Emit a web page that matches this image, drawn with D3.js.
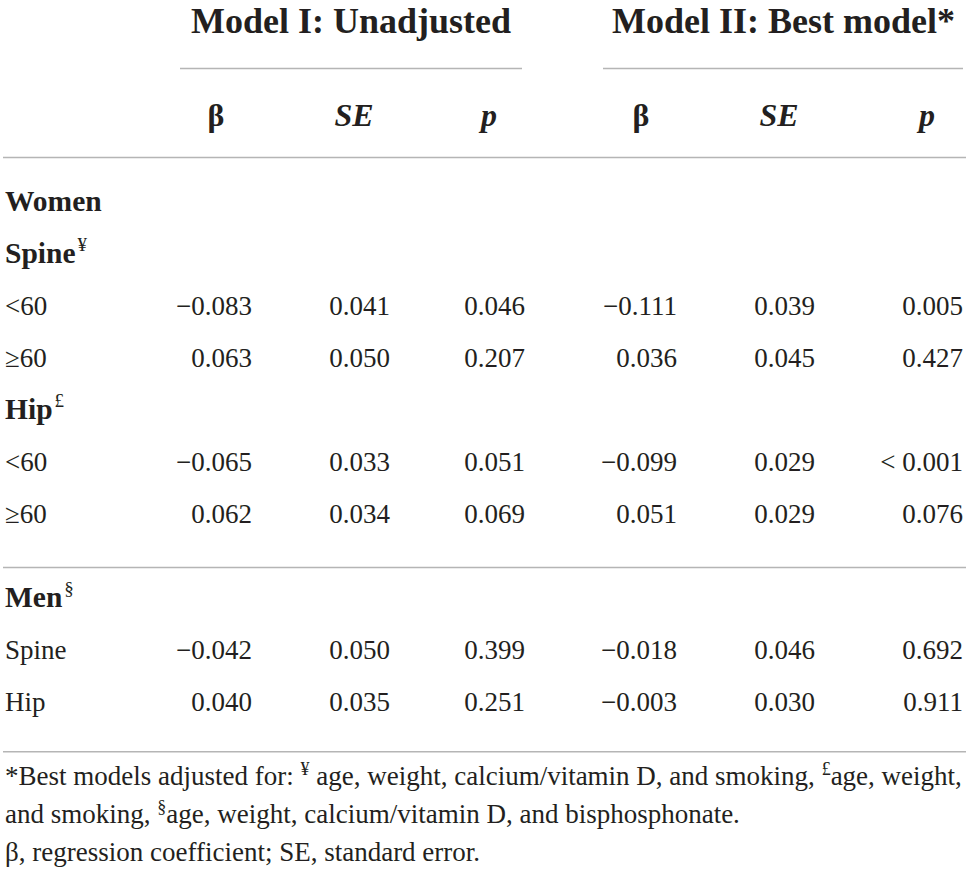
<!DOCTYPE html>
<html>
<head>
<meta charset="utf-8">
<script src="https://cdn.jsdelivr.net/npm/d3@7"></script>
<style>
  body { margin: 0; background: #fff; }
  text { font-family: "Liberation Serif", "Times New Roman", serif; fill: #231f20; }
</style>
</head>
<body>
<div id="table"></div>
<script>
// Table data
const modelTitles = ["Model I: Unadjusted", "Model II: Best model*"];
const colHeaders = ["β", "SE", "p", "β", "SE", "p"];
const colItalic = [false, true, true, false, true, true];

const rowLabels = ["Women", "Spine", "<60", "≥60", "Hip", "<60", "≥60", "Men", "Spine", "Hip"];
const rowSup    = ["", "¥", "", "", "£", "", "", "§", "", ""];
const rowBold   = [true, true, false, false, true, false, false, true, false, false];
const rowSlot   = [0, 1, 2, 3, 4, 5, 6, 7.62, 8.62, 9.62];

const beta1 = [null, null, -0.083, 0.063, null, -0.065, 0.062, null, -0.042, 0.040];
const se1   = [null, null, 0.041, 0.050, null, 0.033, 0.034, null, 0.050, 0.035];
const p1    = [null, null, 0.046, 0.207, null, 0.051, 0.069, null, 0.399, 0.251];
const beta2 = [null, null, -0.111, 0.036, null, -0.099, 0.051, null, -0.018, -0.003];
const se2   = [null, null, 0.039, 0.045, null, 0.029, 0.029, null, 0.046, 0.030];
const p2    = [null, null, 0.005, 0.427, null, "< 0.001", 0.076, null, 0.692, 0.911];

const footnotes = [
  [["*Best models adjusted for: ", false], ["¥", true], [" age, weight, calcium/vitamin D, and smoking, ", false], ["£", true], ["age, weight,", false]],
  [["and smoking, ", false], ["§", true], ["age, weight, calcium/vitamin D, and bisphosphonate.", false]],
  [["β, regression coefficient; SE, standard error.", false]]
];

const width = 969, height = 874;
const svg = d3.select("#table").append("svg").attr("width", width).attr("height", height);

const columns = [beta1, se1, p1, beta2, se2, p2];
// right edge of each numeric column
const colRight = [252, 390, 525, 677, 815, 963];
const y = d3.scaleLinear().domain([0, 1]).range([211, 263]);
const fmt = v => typeof v === "string" ? v : d3.format(".3f")(v).replace("-", "−");

const lineColor = "#b5b5b5";

// spanning model titles
const spans = [[180, 522], [603, 963]];
svg.selectAll(".model")
  .data(modelTitles)
  .enter()
  .append("text")
  .attr("x", (d, i) => i === 0 ? (spans[i][0] + spans[i][1]) / 2 : 955)
  .attr("y", 33)
  .attr("text-anchor", (d, i) => i === 0 ? "middle" : "end")
  .attr("font-weight", "bold")
  .attr("font-size", 36)
  .text(d => d);

svg.selectAll(".spanline")
  .data(spans)
  .enter()
  .append("line")
  .attr("x1", d => d[0]).attr("x2", d => d[1])
  .attr("y1", 68.5).attr("y2", 68.5)
  .attr("stroke", lineColor).attr("stroke-width", 1.5);

// column headers
svg.selectAll(".colhead")
  .data(colHeaders)
  .enter()
  .append("text")
  .attr("x", (d, i) => colRight[i] - 36)
  .attr("y", 126)
  .attr("text-anchor", "middle")
  .attr("font-weight", "bold")
  .attr("font-style", (d, i) => colItalic[i] ? "italic" : "normal")
  .attr("font-size", 32)
  .text(d => d);

// horizontal rules
const rules = [157.5, y(6.855), y(rowSlot[9] + 0.78)];
svg.selectAll(".rule")
  .data(rules)
  .enter()
  .append("line")
  .attr("x1", 3).attr("x2", 966)
  .attr("y1", d => d).attr("y2", d => d)
  .attr("stroke", lineColor).attr("stroke-width", 1.5);

// row labels
const labels = svg.selectAll(".rowlabel")
  .data(rowLabels)
  .enter()
  .append("text")
  .attr("x", 5)
  .attr("y", (d, i) => y(rowSlot[i]))
  .attr("font-size", (d, i) => rowBold[i] ? 29.5 : 27)
  .attr("font-weight", (d, i) => rowBold[i] ? "bold" : "normal");
labels.append("tspan").text(d => d);
labels.append("tspan")
  .attr("font-size", 19)
  .attr("font-weight", "normal")
  .attr("dx", 2)
  .attr("dy", -12)
  .text((d, i) => rowSup[i]);

// cells
const cells = [];
columns.forEach((col, c) => col.forEach((v, r) => { if (v !== null) cells.push({ c, r, v }); }));
svg.selectAll(".cell")
  .data(cells)
  .enter()
  .append("text")
  .attr("x", d => colRight[d.c])
  .attr("y", d => y(rowSlot[d.r]))
  .attr("text-anchor", "end")
  .attr("font-size", 27)
  .text(d => fmt(d.v));

// footnotes
svg.selectAll(".foot")
  .data(footnotes)
  .enter()
  .append("text")
  .attr("x", 5)
  .attr("y", (d, i) => 785 + i * 38)
  .attr("font-size", 27)
  .each(function(parts) {
    const t = d3.select(this);
    parts.forEach(([s, sup]) => {
      t.append("tspan")
        .attr("font-size", sup ? 18 : null)
        .attr("baseline-shift", sup ? "super" : null)
        .text(s);
    });
  });
</script>
</body>
</html>
